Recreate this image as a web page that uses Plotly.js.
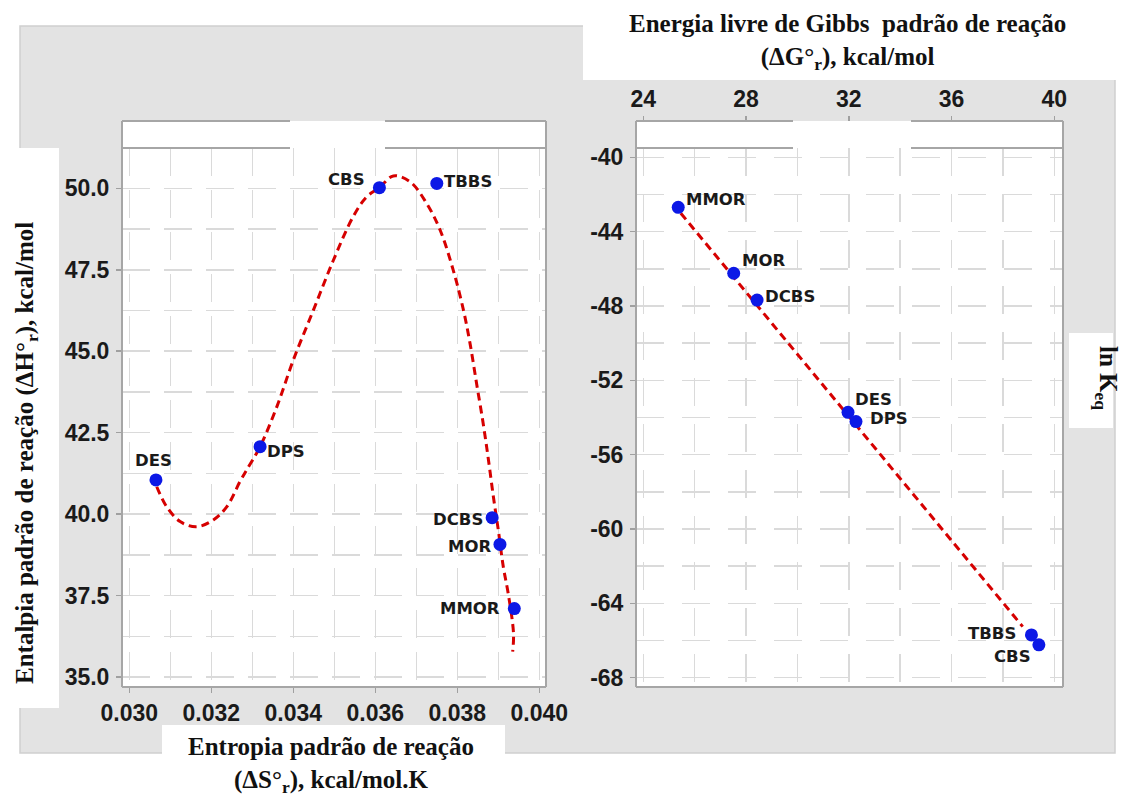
<!DOCTYPE html>
<html>
<head>
<meta charset="utf-8">
<script src="https://cdn.plot.ly/plotly-3.0.1.min.js"></script>
<style>html,body{margin:0;padding:0;background:#fff;}#chart{width:1122px;height:798px;}</style>
</head>
<body>
<div id="chart"></div>
<script>
// ---------- DATA ----------
// Left panel: entropy (x) vs enthalpy (y)
const leftNames = ["DES", "DPS", "CBS", "TBBS", "DCBS", "MOR", "MMOR"];
const entropyS = [0.03065, 0.03319, 0.03610, 0.03750, 0.03885, 0.03904, 0.03939];
const enthalpyH = [41.05, 42.07, 50.02, 50.15, 39.89, 39.07, 37.10];
// fitted curve
const fitCurveS = [0.03067, 0.03091, 0.03124, 0.03164, 0.03205, 0.03238, 0.03270, 0.03286, 0.03319, 0.03360, 0.03400, 0.03449, 0.03498, 0.03546, 0.03579, 0.03610, 0.03644, 0.03685, 0.03725, 0.03758, 0.03790, 0.03815, 0.03831, 0.03847, 0.03863, 0.03876, 0.03888, 0.03900, 0.03912, 0.03924, 0.03937, 0.03935];
const fitCurveH = [40.84, 40.23, 39.77, 39.61, 39.82, 40.23, 41.00, 41.35, 42.07, 43.30, 44.73, 46.26, 47.80, 49.13, 49.74, 50.02, 50.38, 50.20, 49.54, 48.72, 47.49, 46.26, 45.24, 44.01, 42.79, 41.66, 40.53, 39.51, 38.39, 37.57, 36.34, 35.78];

// Right panel: Gibbs energy (x) vs ln Keq (y)
const rightNames = ["MMOR", "MOR", "DCBS", "DES", "DPS", "TBBS", "CBS"];
const gibbsG = [25.36, 27.52, 28.43, 31.97, 32.28, 39.11, 39.40];
const lnKeq = [-42.69, -46.24, -47.68, -53.72, -54.22, -65.70, -66.23];
const fitLineG = [25.46, 38.77];
const fitLineK = [-43.01, -65.25];

// Tick labels
const leftXTicks = [0.030, 0.032, 0.034, 0.036, 0.038, 0.040];
const leftXText = ["0.030", "0.032", "0.034", "0.036", "0.038", "0.040"];
const leftYTicks = [35, 37.5, 40, 42.5, 45, 47.5, 50];
const leftYText = ["35.0", "37.5", "40.0", "42.5", "45.0", "47.5", "50.0"];
const rightXTicks = [24, 28, 32, 36, 40];
const rightXText = ["24", "28", "32", "36", "40"];
const rightYTicks = [-68, -64, -60, -56, -52, -48, -44, -40];
const rightYText = ["-68", "-64", "-60", "-56", "-52", "-48", "-44", "-40"];

// ---------- LAYOUT HELPERS ----------
const W = 1122, H = 798;
const X = px => px / W;
const Y = py => 1 - py / H;

const tickFont = {family: "Liberation Sans, Arial, sans-serif", size: 23, weight: "bold", color: "#1a1a1a"};
const labelFont = {family: "DejaVu Sans, sans-serif", size: 16.5, weight: "bold", color: "#1a1a1a"};
const titleFont = {family: "Liberation Serif, Times New Roman, serif", size: 25, weight: "bold", color: "#111"};
const gridColor = "#dadada";
const frameColor = "#a6a6a6";

const blue = "#0c18e6";
const red = "#d60000";

const traces = [
  {x: fitCurveS, y: fitCurveH, xaxis: "x", yaxis: "y", mode: "lines", line: {color: red, width: 3, dash: "8px,5px", shape: "spline"}, hoverinfo: "skip"},
  {x: entropyS, y: enthalpyH, xaxis: "x", yaxis: "y", mode: "markers", marker: {color: blue, size: 13}},
  {x: fitLineG, y: fitLineK, xaxis: "x2", yaxis: "y2", mode: "lines", line: {color: red, width: 3, dash: "8px,5px"}, hoverinfo: "skip"},
  {x: gibbsG, y: lnKeq, xaxis: "x2", yaxis: "y2", mode: "markers", marker: {color: blue, size: 13}}
];

// label offsets (style only)
const leftLabelStyle = {
  DES: {xanchor: "center", xshift: -2, yshift: 19},
  DPS: {xanchor: "left", xshift: 5, yshift: -5},
  CBS: {xanchor: "right", xshift: -12, yshift: 8},
  TBBS: {xanchor: "left", xshift: 5, yshift: 2},
  DCBS: {xanchor: "right", xshift: -7, yshift: -2},
  MOR: {xanchor: "right", xshift: -7, yshift: -2},
  MMOR: {xanchor: "right", xshift: -12, yshift: 0}
};
const rightLabelStyle = {
  MMOR: {xanchor: "left", xshift: 6, yshift: 8},
  MOR: {xanchor: "left", xshift: 6, yshift: 13},
  DCBS: {xanchor: "left", xshift: 6, yshift: 4},
  DES: {xanchor: "left", xshift: 5, yshift: 13},
  DPS: {xanchor: "left", xshift: 12, yshift: 3},
  TBBS: {xanchor: "right", xshift: -13, yshift: 1},
  CBS: {xanchor: "right", xshift: -6, yshift: -12}
};

const annotations = [];
leftNames.forEach((n, i) => {
  const s = leftLabelStyle[n];
  annotations.push({x: entropyS[i], y: enthalpyH[i], xref: "x", yref: "y", text: n, showarrow: false,
    xanchor: s.xanchor, yanchor: "middle", xshift: s.xshift, yshift: s.yshift, font: labelFont});
});
rightNames.forEach((n, i) => {
  const s = rightLabelStyle[n];
  annotations.push({x: gibbsG[i], y: lnKeq[i], xref: "x2", yref: "y2", text: n, showarrow: false,
    xanchor: s.xanchor, yanchor: "middle", xshift: s.xshift, yshift: s.yshift, font: labelFont});
});
// titles
annotations.push({xref: "paper", yref: "paper", x: X(848), y: Y(42), xanchor: "center", yanchor: "middle", showarrow: false,
  text: "Energia livre de Gibbs  padrão de reação<br>(ΔG°<sub>r</sub>), kcal/mol", font: titleFont});
annotations.push({xref: "paper", yref: "paper", x: X(331), y: Y(765), xanchor: "center", yanchor: "middle", showarrow: false,
  text: "Entropia padrão de reação<br>(ΔS°<sub>r</sub>), kcal/mol.K", font: titleFont});
annotations.push({xref: "paper", yref: "paper", x: X(26), y: Y(453), xanchor: "center", yanchor: "middle", showarrow: false, textangle: -90,
  text: "Entalpia padrão de reação (ΔH°<sub>r</sub>), kcal/mol", font: titleFont});
annotations.push({xref: "paper", yref: "paper", x: X(1106), y: Y(378), xanchor: "center", yanchor: "middle", showarrow: false, textangle: 90,
  text: "ln K<sub>eq</sub>", font: titleFont});

function rect(x0, y0, x1, y1, fill, line) {
  return {type: "rect", xref: "paper", yref: "paper", x0: X(x0), x1: X(x1), y0: Y(y0), y1: Y(y1),
    fillcolor: fill, line: line || {width: 0}, layer: "below"};
}
function seg(x0, y0, x1, y1) {
  return {type: "line", xref: "paper", yref: "paper", x0: X(x0), x1: X(x1), y0: Y(y0), y1: Y(y1),
    line: {color: frameColor, width: 2}, layer: "above"};
}
const shapes = [
  rect(20, 26, 1115, 753, "#e3e3e3", {color: "#d0d0d0", width: 1.5}),
  rect(583, -2, 1124, 80, "#ffffff"),
  rect(-2, 148, 59, 708, "#ffffff"),
  rect(162, 725, 505, 800, "#ffffff"),
  rect(1069, 333, 1113, 428, "#ffffff"),
  rect(122, 121, 546, 687, "#ffffff"),
  rect(636, 121, 1063, 687, "#ffffff"),
  // left frame
  seg(122, 121, 122, 687), seg(122, 687, 546, 687), seg(546, 121, 546, 687),
  seg(122, 121, 290, 121), seg(385, 121, 546, 121),
  seg(122, 148, 290, 148), seg(385, 148, 546, 148),
  // right frame
  seg(636, 121, 636, 687), seg(636, 687, 1063, 687), seg(1063, 121, 1063, 687),
  seg(636, 121, 793, 121), seg(911, 121, 1063, 121),
  seg(636, 148, 793, 148), seg(911, 148, 1063, 148)
];

const commonAxis = {showline: false, zeroline: false, ticks: "outside", ticklen: 5, tickwidth: 1.5, tickcolor: "#a0a0a0",
  tickfont: tickFont, showgrid: true, gridcolor: gridColor, gridwidth: 1.5, fixedrange: true};

const layout = {
  width: W, height: H, margin: {l: 0, r: 0, t: 0, b: 0},
  paper_bgcolor: "#ffffff", plot_bgcolor: "rgba(0,0,0,0)",
  showlegend: false,
  xaxis: Object.assign({}, commonAxis, {domain: [X(122), X(546)], range: [0.029822, 0.040163], anchor: "y",
    tickvals: leftXTicks, ticktext: leftXText, griddash: "28px,14px",
    minor: {dtick: 0.001, tick0: 0.030, showgrid: true, gridcolor: gridColor, gridwidth: 1.5, griddash: "28px,14px", ticks: ""}}),
  yaxis: Object.assign({}, commonAxis, {domain: [Y(687), Y(148)], range: [34.693, 51.237], anchor: "x",
    tickvals: leftYTicks, ticktext: leftYText, griddash: "28px,14px", ticklabelstandoff: 2,
    minor: {dtick: 1.25, tick0: 35, showgrid: true, gridcolor: gridColor, gridwidth: 1.5, griddash: "28px,14px", ticks: ""}}),
  xaxis2: Object.assign({}, commonAxis, {domain: [X(636), X(1063)], range: [23.716, 40.339], anchor: "free", position: Y(121), side: "top",
    tickvals: rightXTicks, ticktext: rightXText, griddash: "28px,18px",
    minor: {dtick: 2, tick0: 24, showgrid: true, gridcolor: gridColor, gridwidth: 1.5, griddash: "28px,18px", ticks: ""}}),
  yaxis2: Object.assign({}, commonAxis, {domain: [Y(687), Y(148)], range: [-68.5, -39.5], anchor: "x2",
    tickvals: rightYTicks, ticktext: rightYText, griddash: "28px,18px", ticklabelstandoff: 2,
    minor: {dtick: 2, tick0: -40, showgrid: true, gridcolor: gridColor, gridwidth: 1.5, griddash: "28px,18px", ticks: ""}}),
  shapes: shapes,
  annotations: annotations
};

Plotly.newPlot("chart", traces, layout, {displayModeBar: false, staticPlot: true});
</script>
</body>
</html>
